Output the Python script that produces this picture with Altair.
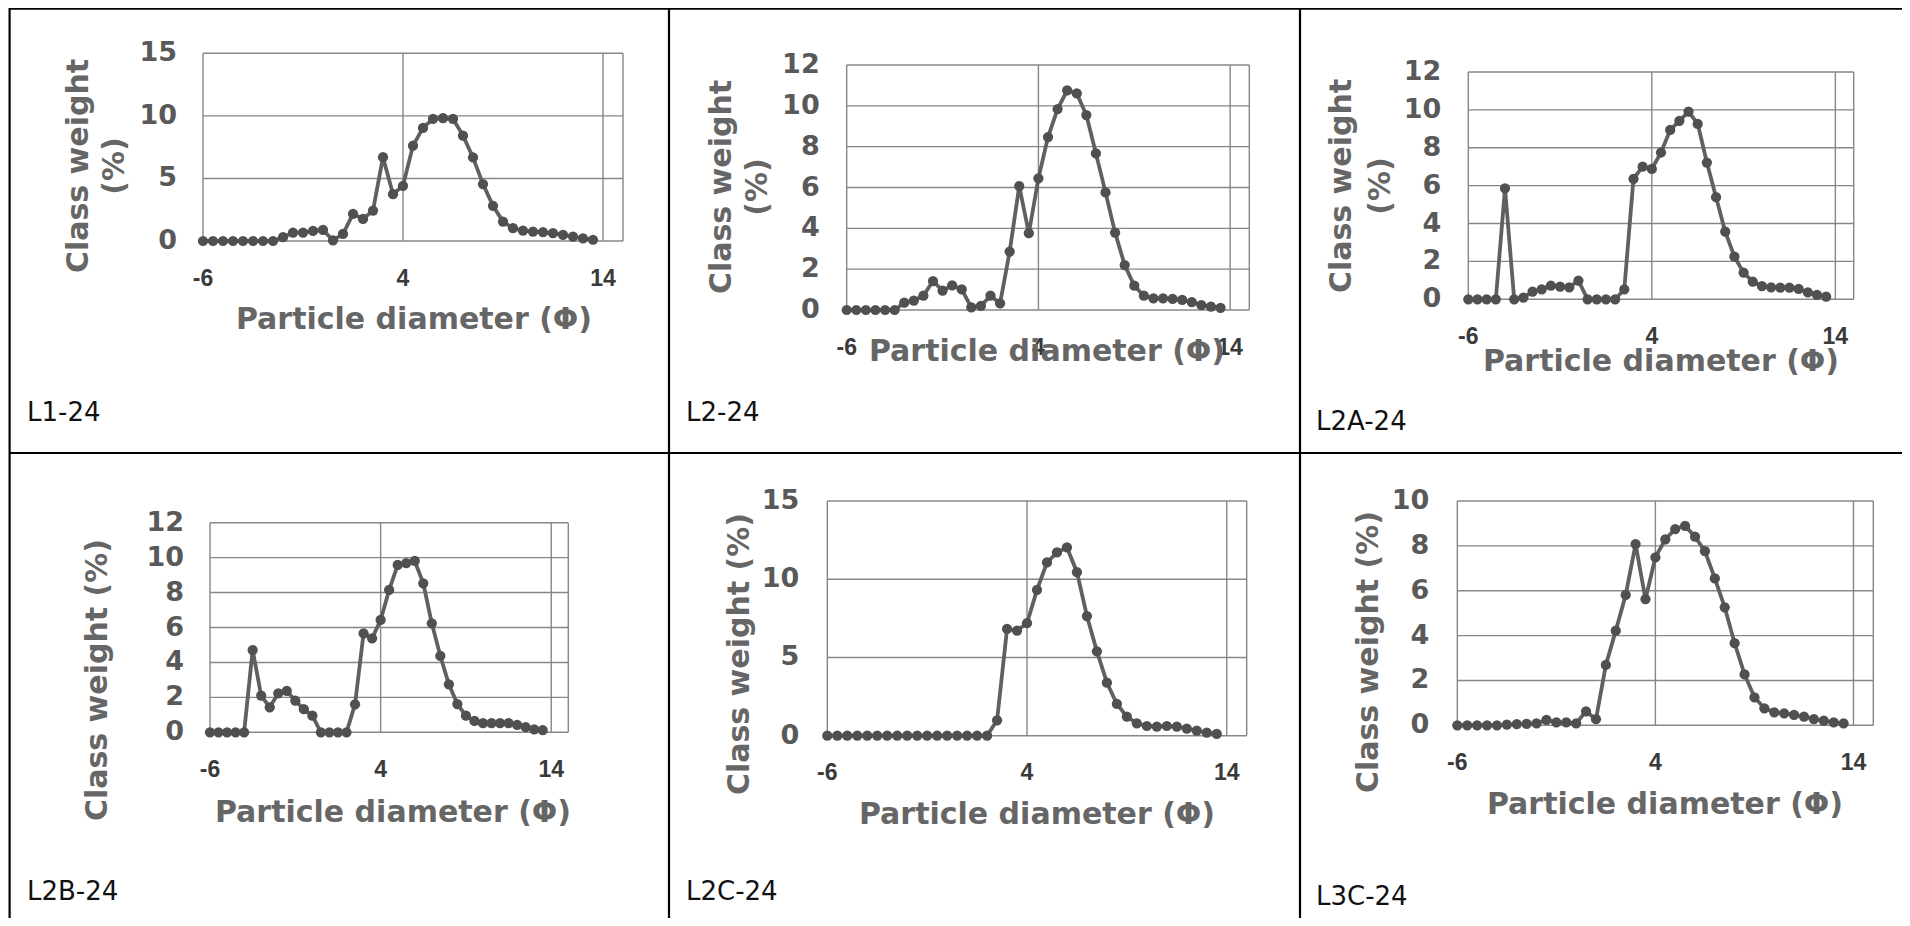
import altair as alt
import pandas as pd

# ---------------- data ----------------
PHI = [-6, -5.5, -5, -4.5, -4, -3.5, -3, -2.5, -2, -1.5, -1, -0.5, 0, 0.5, 1, 1.5,
       2, 2.5, 3, 3.5, 4, 4.5, 5, 5.5, 6, 6.5, 7, 7.5, 8, 8.5, 9, 9.5, 10, 10.5,
       11, 11.5, 12, 12.5, 13, 13.5]

L1_24 = [0, 0, 0, 0, 0, 0, 0, 0, 0.3, 0.67, 0.67, 0.8, 0.88, 0.05, 0.56, 2.17,
         1.76, 2.43, 6.7, 3.74, 4.41, 7.62, 9.04, 9.76, 9.81, 9.76, 8.42, 6.68,
         4.55, 2.81, 1.55, 1.02, 0.83, 0.75, 0.7, 0.62, 0.48, 0.35, 0.21, 0.1]
L2_24 = [0, 0, 0, 0, 0, 0, 0.36, 0.46, 0.7, 1.42, 0.95, 1.21, 1.01, 0.13, 0.2, 0.7,
         0.33, 2.86, 6.07, 3.76, 6.45, 8.47, 9.84, 10.76, 10.61, 9.55, 7.67, 5.76,
         3.79, 2.2, 1.19, 0.7, 0.57, 0.57, 0.54, 0.49, 0.39, 0.24, 0.16, 0.11]
L2A_24 = [0, 0, 0, 0, 5.86, 0, 0.09, 0.4, 0.53, 0.72, 0.67, 0.63, 0.99, 0, 0, 0,
          0, 0.53, 6.36, 7.0, 6.88, 7.75, 8.94, 9.42, 9.91, 9.26, 7.22, 5.39,
          3.57, 2.25, 1.41, 0.93, 0.7, 0.63, 0.62, 0.62, 0.55, 0.37, 0.23, 0.14]
L2B_24 = [0, 0, 0, 0, 0, 4.71, 2.1, 1.43, 2.23, 2.37, 1.81, 1.32, 0.95, 0, 0, 0,
          0, 1.6, 5.67, 5.38, 6.43, 8.15, 9.58, 9.68, 9.81, 8.53, 6.24, 4.37,
          2.75, 1.62, 0.95, 0.65, 0.52, 0.52, 0.52, 0.52, 0.42, 0.29, 0.17, 0.13]
L2C_24 = [0, 0, 0, 0, 0, 0, 0, 0, 0, 0, 0, 0, 0, 0, 0, 0,
          0, 0.98, 6.82, 6.72, 7.19, 9.32, 11.07, 11.71, 12.03, 10.45, 7.65, 5.39,
          3.39, 2.03, 1.22, 0.79, 0.62, 0.58, 0.62, 0.58, 0.45, 0.32, 0.19, 0.11]
L3C_24 = [0, 0, 0, 0, 0, 0.03, 0.05, 0.06, 0.09, 0.24, 0.13, 0.13, 0.09, 0.62, 0.27, 2.69,
          4.22, 5.81, 8.08, 5.62, 7.49, 8.29, 8.75, 8.89, 8.41, 7.76, 6.55, 5.26,
          3.66, 2.27, 1.25, 0.76, 0.58, 0.53, 0.46, 0.39, 0.28, 0.21, 0.13, 0.09]

SAMPLES = ["L1-24", "L2-24", "L2A-24", "L2B-24", "L2C-24", "L3C-24"]
SERIES = [L1_24, L2_24, L2A_24, L2B_24, L2C_24, L3C_24]
Y_TICKS = [[0, 5, 10, 15], [0, 2, 4, 6, 8, 10, 12], [0, 2, 4, 6, 8, 10, 12],
           [0, 2, 4, 6, 8, 10, 12], [0, 5, 10, 15], [0, 2, 4, 6, 8, 10]]
X_TICKS = [-6, 4, 14]
X_MIN, X_MAX = -6, 15
X_TITLE = "Particle diameter (\u03a6)"
Y_TITLE_TWO = ["Class weight", "(%)"]
Y_TITLE_ONE = "Class weight (%)"

# ---------------- layout (page pixel coordinates) ----------------
OFF = 8  # page margin
LAYOUT = [
    dict(l=203, r=623, t=53.3, b=241, gap=26, xt=(414, 320), yt=[(79, 0), (115, 1)], ytc=166, lab=(27, 413)),
    dict(l=846.7, r=1249.3, t=65, b=310, gap=27, xt=(1047, 352), yt=[(722, 0), (758, 1)], ytc=187, lab=(686, 413)),
    dict(l=1468.3, r=1853.7, t=72, b=299.3, gap=27, xt=(1661, 362), yt=[(1342, 0), (1381, 1)], ytc=186, lab=(1316, 422)),
    dict(l=210, r=568.3, t=522.7, b=732.3, gap=26, xt=(393, 813), yt=[(98, 2)], ytc=680, lab=(27, 892)),
    dict(l=827.3, r=1246.7, t=501, b=735.7, gap=28, xt=(1037, 815), yt=[(740, 2)], ytc=654, lab=(686, 892)),
    dict(l=1457.3, r=1873.3, t=501, b=725.3, gap=28, xt=(1665, 805), yt=[(1369, 2)], ytc=652, lab=(1316, 897)),
]

GRID = "#878787"
LINE = "#606060"
DOT = "#505050"
YTICK_C = "#595959"
XTICK_C = "#3a3a3a"
TITLE_C = "#666666"
BOLD = "DejaVu Sans"
XFONT = "Liberation Sans"


def txt(text, x, y, **kw):
    return alt.Chart(pd.DataFrame({"t": [text]})).mark_text(**kw).encode(
        x=alt.value(x - OFF), y=alt.value(y - OFF), text="t:N")


def panel(values, yticks, L, name):
    ymax = yticks[-1]
    xs = alt.Scale(domain=[X_MIN, X_MAX], range=[L["l"] - OFF, L["r"] - OFF], nice=False, zero=False)
    ys = alt.Scale(domain=[0, ymax], range=[L["b"] - OFF, L["t"] - OFF], nice=False)
    df = pd.DataFrame({"phi": PHI, "w": values})
    yt = pd.DataFrame({"v": yticks, "x0": [X_MIN] * len(yticks), "x1": [X_MAX] * len(yticks),
                       "lab": [str(v) for v in yticks]})
    xt = pd.DataFrame({"v": X_TICKS, "y0": [0] * 3, "y1": [ymax] * 3, "lab": [str(v) for v in X_TICKS]})
    rb = pd.DataFrame({"v": [X_MAX], "y0": [0], "y1": [ymax]})

    X = lambda f: alt.X(f, scale=xs, axis=None)
    Y = lambda f: alt.Y(f, scale=ys, axis=None)

    hgrid = alt.Chart(yt).mark_rule(color=GRID, strokeWidth=1.4).encode(x=X("x0:Q"), x2="x1:Q", y=Y("v:Q"))
    vgrid = alt.Chart(xt).mark_rule(color=GRID, strokeWidth=1.4).encode(x=X("v:Q"), y=Y("y0:Q"), y2="y1:Q")
    rborder = alt.Chart(rb).mark_rule(color=GRID, strokeWidth=1.4).encode(x=X("v:Q"), y=Y("y0:Q"), y2="y1:Q")
    line = alt.Chart(df).mark_line(color=LINE, strokeWidth=3.8).encode(x=X("phi:Q"), y=Y("w:Q"))
    dots = alt.Chart(df).mark_circle(color=DOT, size=105, opacity=1).encode(x=X("phi:Q"), y=Y("w:Q"))
    ylabs = alt.Chart(yt).mark_text(align="right", baseline="middle", dx=-L["gap"], font=BOLD,
                                    fontWeight="bold", fontSize=27, color=YTICK_C).encode(
        x=X("x0:Q"), y=Y("v:Q"), text="lab:N")
    xlabs = alt.Chart(xt).mark_text(align="center", baseline="middle", dy=37.5, font=XFONT,
                                    fontWeight="bold", fontSize=23, color=XTICK_C).encode(
        x=X("v:Q"), y=Y("y0:Q"), text="lab:N")

    layers = [hgrid, vgrid, rborder, line, dots, ylabs, xlabs]
    layers.append(txt(X_TITLE, L["xt"][0], L["xt"][1], font=BOLD, fontWeight="bold", fontSize=30,
                      color=TITLE_C, align="center", baseline="middle"))
    for cx, k in L["yt"]:
        s = Y_TITLE_ONE if k == 2 else Y_TITLE_TWO[k]
        layers.append(txt(s, cx, L["ytc"], font=BOLD, fontWeight="bold", fontSize=30, color=TITLE_C,
                          align="center", baseline="middle", angle=270))
    layers.append(txt(name, L["lab"][0], L["lab"][1], font="DejaVu Sans", fontSize=26,
                      color="#111111", align="left", baseline="middle"))
    return alt.layer(*layers)


panels = [panel(SERIES[i], Y_TICKS[i], LAYOUT[i], SAMPLES[i]) for i in range(6)]

# table borders
B = "#000000"
def vline(x, y1, y2):
    return alt.Chart(pd.DataFrame({"a": [0]})).mark_rule(color=B, strokeWidth=2.2).encode(
        x=alt.value(x - OFF), y=alt.value(y1 - OFF), y2=alt.value(y2 - OFF))
def hline(y, x1, x2):
    return alt.Chart(pd.DataFrame({"a": [0]})).mark_rule(color=B, strokeWidth=2.2).encode(
        y=alt.value(y - OFF), x=alt.value(x1 - OFF), x2=alt.value(x2 - OFF))

borders = [hline(8.6, 9.5, 1910), hline(453, 9.5, 1910),
           vline(9.6, 8, 930), vline(669, 8, 930), vline(1300, 8, 930)]

chart = alt.layer(*panels, *borders).resolve_scale(x="independent", y="independent").properties(
    width=1894, height=910, autosize=alt.AutoSizeParams(type="none"), padding=0
).configure_view(stroke=None)

chart.save("out.html", embed_options={"renderer": "svg", "actions": False})
